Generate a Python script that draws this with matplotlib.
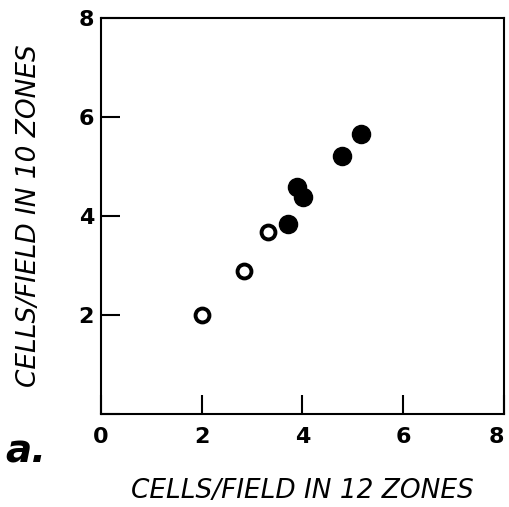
import matplotlib
matplotlib.use('Agg')
import matplotlib.pyplot as plt

# cells/field, 12 zones (x) vs 10 zones (y)
open_x = [2.0, 2.84, 3.31]
open_y = [2.0, 2.89, 3.67]
filled_x = [3.72, 3.90, 4.02, 4.79, 5.16]
filled_y = [3.83, 4.58, 4.39, 5.21, 5.66]
ticks = [0, 2, 4, 6, 8]

fig = plt.figure(figsize=(5.10, 5.07), dpi=100)
ax = fig.add_axes([0.198, 0.1844, 0.79, 0.78])

ax.scatter(open_x, open_y, s=100, facecolors='white', edgecolors='black',
           linewidths=2.8, zorder=3)
ax.scatter(filled_x, filled_y, s=170, color='black', zorder=3)

ax.set_xlim(0, 8)
ax.set_ylim(0, 8)
ax.set_xticks(ticks)
ax.set_yticks(ticks)
ax.set_yticklabels(['', '2', '4', '6', '8'])
for s in ax.spines.values():
    s.set_linewidth(1.5)
ax.tick_params(direction='in', length=14, width=1.5, labelsize=16)
ax.tick_params(axis='x', pad=10)
ax.tick_params(axis='y', pad=5)
for t in ax.get_xticklabels() + ax.get_yticklabels():
    t.set_fontweight('bold')
# keep the last x label inside the figure
ax.get_xticklabels()[-1].set_horizontalalignment('right')

ax.set_xlabel('CELLS/FIELD IN 12 ZONES', fontsize=19, style='italic',
              labelpad=22)
ax.set_ylabel('CELLS/FIELD IN 10 ZONES', fontsize=19, style='italic',
              labelpad=26)
fig.text(0.01, 0.088, 'a.', fontsize=28, style='italic', fontweight='bold')

plt.savefig('out.png', dpi=100)
